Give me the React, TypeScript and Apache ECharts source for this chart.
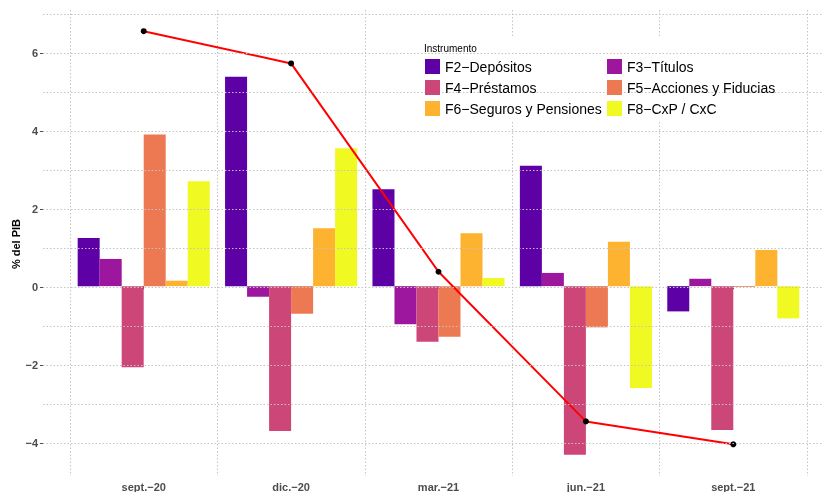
import React, { useEffect, useRef } from "react";
import * as echarts from "echarts";

const categories = ["sept.\u221220", "dic.\u221220", "mar.\u221221", "jun.\u221221", "sept.\u221221"];
const seriesNames = [
  "F2\u2212Depósitos",
  "F3\u2212Títulos",
  "F4\u2212Préstamos",
  "F5\u2212Acciones y Fiducias",
  "F6\u2212Seguros y Pensiones",
  "F8\u2212CxP / CxC",
];
const f2 = [1.24, 5.39, 2.49, 3.1, -0.65];
const f3 = [0.7, -0.27, -0.98, 0.34, 0.19];
const f4 = [-2.09, -3.73, -1.43, -4.34, -3.7];
const f5 = [3.9, -0.71, -1.3, -1.06, -0.02];
const f6 = [0.14, 1.49, 1.36, 1.14, 0.93];
const f8 = [2.7, 3.55, 0.21, -2.62, -0.83];
const total = [6.56, 5.73, 0.37, -3.48, -4.07];
const yLabelTicks = [-4, -2, 0, 2, 4, 6];
const yGridTicks = [-4, -3, -2, -1, 0, 1, 2, 3, 4, 5, 6, 7];
const colors = ["#5D01A6", "#9C179E", "#CC4778", "#ED7953", "#FDB32F", "#F0F921"];

const Y_MIN = -4.885;
const Y_MAX = 7.105;
const GRID_COLOR = "#c4c4c4";
const FONT = "'Liberation Sans', Arial, sans-serif";

export default function App() {
  const ref = useRef<HTMLDivElement>(null);
  useEffect(() => {
    if (!ref.current) return;
    const chart = echarts.init(ref.current, undefined, { renderer: "svg" });
    const values = [f2, f3, f4, f5, f6, f8];
    const barSeries = values.map((d, i) => ({
      type: "bar",
      name: seriesNames[i],
      xAxisIndex: 1,
      yAxisIndex: 1,
      data: d,
      barGap: "0%",
      barCategoryGap: "10.4%",
      itemStyle: { color: colors[i] },
      z: 3,
    }));
    const gridLine = { color: GRID_COLOR, width: 1, type: [1.5, 2] as any };
    const legendBase = {
      orient: "vertical",
      top: 59,
      padding: 0,
      itemWidth: 15,
      itemHeight: 15,
      itemGap: 6,
      icon: "rect",
      textStyle: { fontSize: 14, color: "#000", fontFamily: FONT },
      selectedMode: false,
      z: 10,
    };
    chart.setOption({
      animation: false,
      textStyle: { fontFamily: FONT },
      grid: [
        { left: 43, right: 3, top: 10, bottom: 14 },
        { left: 70, right: 18, top: 10, bottom: 14 },
      ],
      xAxis: [
        { type: "value", gridIndex: 0, min: 0, max: 1, show: false },
        {
          type: "category",
          gridIndex: 1,
          data: categories,
          axisLine: { show: false },
          axisTick: { show: true, alignWithLabel: true, length: 3, lineStyle: { color: "#4d4d4d" } },
          axisLabel: {
            margin: 5,
            fontSize: 11,
            fontWeight: "bold",
            color: "#4d4d4d",
            fontFamily: FONT,
          },
          splitLine: { show: true, interval: 0, lineStyle: gridLine },
        },
      ],
      yAxis: [
        {
          type: "value",
          gridIndex: 0,
          min: Y_MIN,
          max: Y_MAX,
          axisLine: { show: false },
          axisTick: { show: true, length: 3, customValues: yLabelTicks, lineStyle: { color: "#4d4d4d" } },
          axisLabel: {
            customValues: yLabelTicks,
            margin: 5,
            fontSize: 11,
            fontWeight: "bold",
            color: "#4d4d4d",
            fontFamily: FONT,
            formatter: (v: number) => String(v).replace("-", "\u2212"),
          },
          splitLine: { show: false },
        },
        {
          type: "value",
          gridIndex: 1,
          min: Y_MIN,
          max: Y_MAX,
          show: false,
          splitLine: { show: false },
        },
      ],
      legend: [
        { ...legendBase, left: 425, data: [seriesNames[0], seriesNames[2], seriesNames[4]] },
        { ...legendBase, left: 607, data: [seriesNames[1], seriesNames[3], seriesNames[5]] },
      ],
      graphic: [
        {
          type: "rect",
          shape: { x: 423, y: 38, width: 357, height: 82 },
          style: { fill: "#ffffff" },
          z: 5,
        },
        {
          type: "text",
          x: 424,
          y: 48,
          style: {
            text: "Instrumento",
            fontSize: 10,
            fill: "#000",
            fontFamily: FONT,
            textVerticalAlign: "middle",
          },
          z: 11,
        },
        {
          type: "text",
          x: 16,
          y: 244,
          rotation: Math.PI / 2,
          style: {
            text: "% del PIB",
            fontSize: 11,
            fontWeight: "bold",
            fill: "#000",
            fontFamily: FONT,
            textAlign: "center",
            textVerticalAlign: "middle",
          },
          z: 11,
        },
      ],
      series: [
        {
          type: "line",
          name: "grid",
          xAxisIndex: 0,
          yAxisIndex: 0,
          data: [],
          silent: true,
          z: 0,
          markLine: {
            silent: true,
            symbol: ["none", "none"],
            label: { show: false },
            lineStyle: gridLine,
            data: yGridTicks.map((v) => ({ yAxis: v })),
          },
        },
        ...barSeries,
        {
          type: "line",
          name: "Total",
          xAxisIndex: 1,
          yAxisIndex: 1,
          data: total,
          symbol: "circle",
          symbolSize: 6,
          lineStyle: { color: "#ff0000", width: 2 },
          itemStyle: { color: "#000" },
          z: 4,
        },
      ],
    });
    return () => chart.dispose();
  }, []);
  return (
    <div
      ref={ref}
      style={{ position: "fixed", left: 0, top: 0, width: 825, height: 492 }}
    />
  );
}
